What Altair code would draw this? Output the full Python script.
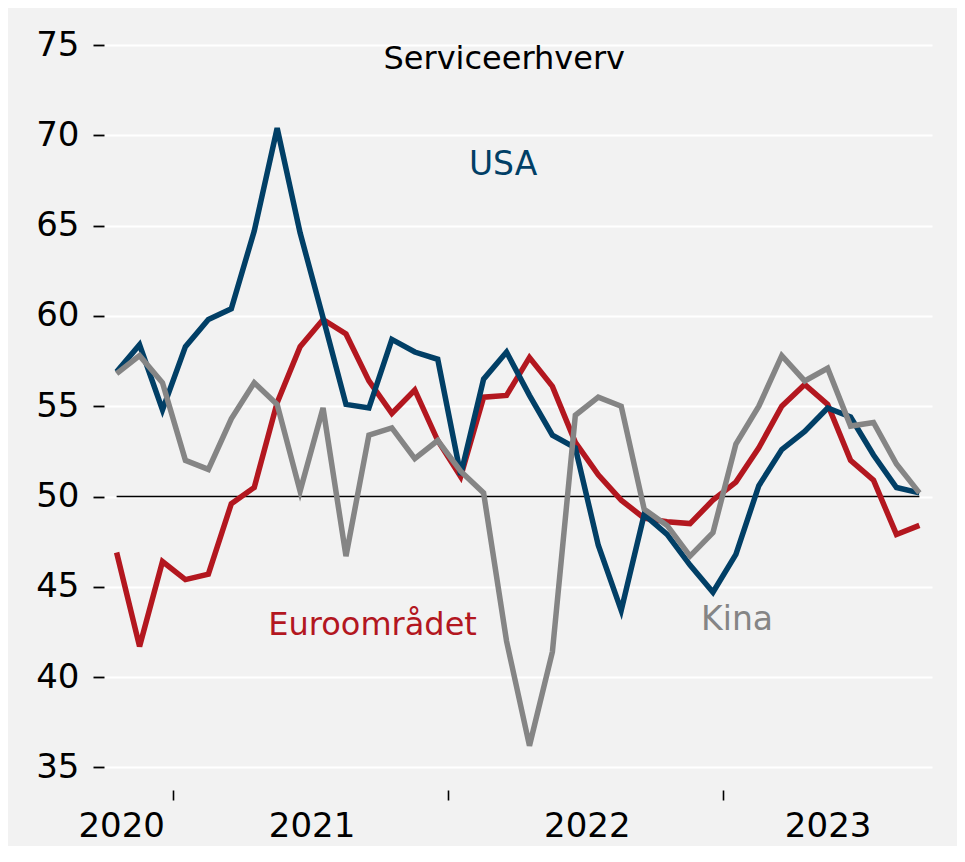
import altair as alt
import pandas as pd

# Monthly services PMI, Oct 2020 - Sep 2023
months = pd.date_range("2020-10-01", periods=36, freq="MS").strftime("%Y-%m").tolist()

usa = [56.9, 58.4, 54.8, 58.3, 59.8, 60.4, 64.7, 70.4, 64.6, 59.9, 55.1, 54.9,
       58.7, 58.0, 57.6, 51.2, 56.5, 58.0, 55.6, 53.4, 52.7, 47.3, 43.7, 49.0,
       47.9, 46.2, 44.7, 46.8, 50.6, 52.6, 53.6, 54.9, 54.4, 52.3, 50.5, 50.2]

euro = [46.9, 41.7, 46.4, 45.4, 45.7, 49.6, 50.5, 55.2, 58.3, 59.8, 59.0, 56.4,
        54.6, 55.9, 53.1, 51.1, 55.5, 55.6, 57.7, 56.1, 53.0, 51.2, 49.8, 48.8,
        48.6, 48.5, 49.8, 50.8, 52.7, 55.0, 56.2, 55.1, 52.0, 50.9, 47.9, 48.4]

kina = [56.8, 57.8, 56.3, 52.0, 51.5, 54.3, 56.3, 55.1, 50.3, 54.9, 46.7, 53.4,
        53.8, 52.1, 53.1, 51.4, 50.2, 42.0, 36.2, 41.4, 54.5, 55.5, 55.0, 49.3,
        48.4, 46.7, 48.0, 52.9, 55.0, 57.8, 56.4, 57.1, 53.9, 54.1, 51.8, 50.2]

series_names = ["Euroområdet", "USA", "Kina"]
series_colors = ["#b3171f", "#013f66", "#858585"]

year_labels = ["2020", "2021", "2022", "2023"]
year_label_at = [0.2, 8.5, 20.5, 31.0]      # month-index where year label sits
year_break_at = [2.45, 14.45, 26.45]        # month-index of year boundary ticks

y_ticks = [35, 40, 45, 50, 55, 60, 65, 70, 75]
ref_level = 50

# annotations (text, month-index, value)
ann_text = ["Serviceerhverv", "USA", "Euroområdet", "Kina"]
ann_i = [16.9, 16.85, 11.16, 27.05]
ann_v = [74.2, 68.35, 42.87, 43.14]
ann_color = ["#000000", "#013f66", "#b3171f", "#858585"]
ann_size = [32, 33, 32, 33]

rows = []
for name, vals in zip(series_names, [euro, usa, kina]):
    for k, (m, v) in enumerate(zip(months, vals)):
        rows.append({"i": k, "month": m, "v": v, "series": name})
df = pd.DataFrame(rows)

rule_df = pd.DataFrame({"i": [0], "i2": [len(months) - 1], "v": [ref_level]})
ann_df = pd.DataFrame({"t": ann_text, "i": ann_i, "v": ann_v, "c": ann_color, "s": ann_size})

FONT = "DejaVu Sans"

label_expr = " : ".join(
    [f"datum.value == {p} ? '{lab}'" for p, lab in zip(year_label_at, year_labels)]
) + " : ''"
tick_test = "indexof([" + ",".join(str(p) for p in year_break_at) + "], datum.value) >= 0"

x_enc = alt.X(
    "i:Q",
    scale=alt.Scale(domain=[-0.55, 35.55], nice=False, zero=False),
    axis=alt.Axis(
        values=year_label_at + year_break_at,
        labelExpr=label_expr,
        title=None,
        grid=False,
        domain=False,
        tickSize=10,
        tickWidth=1.6,
        tickColor="black",
        tickOpacity={"condition": {"test": tick_test, "value": 1}, "value": 0},
        labelFont=FONT,
        labelFontSize=34,
        labelColor="black",
        labelPadding=9,
        labelFlush=False,
        labelOverlap=False,
        labelBound=False,
    ),
)

y_enc = alt.Y(
    "v:Q",
    scale=alt.Scale(domain=[33.75, 75], nice=False, zero=False),
    axis=alt.Axis(
        values=y_ticks,
        title=None,
        grid=True,
        gridColor="white",
        gridWidth=2,
        domain=False,
        tickSize=11,
        tickWidth=1.8,
        tickColor="black",
        labelFont=FONT,
        labelFontSize=34,
        labelColor="black",
        labelPadding=14,
    ),
)

rule = alt.Chart(rule_df).mark_rule(color="black", strokeWidth=1.5).encode(
    x=x_enc, x2="i2:Q", y=y_enc
)

layers = [rule]
for name, col in zip(series_names, series_colors):
    layers.append(
        alt.Chart(df)
        .transform_filter(alt.datum.series == name)
        .mark_line(color=col, strokeWidth=5.5)
        .encode(x=x_enc, y=y_enc)
    )

text = alt.Chart(ann_df).mark_text(font=FONT, align="center", baseline="middle").encode(
    x=x_enc,
    y=y_enc,
    text="t:N",
    color=alt.Color("c:N", scale=None),
    size=alt.Size("s:Q", scale=None),
)
layers.append(text)

chart = (
    alt.layer(*layers)
    .properties(
        width=828,
        height=745,
        background="#f2f2f2",
        autosize=alt.AutoSizeParams(type="none"),
        padding={"left": 96, "top": 37, "right": 25, "bottom": 56},
    )
    .configure_view(strokeWidth=0, fill="#f2f2f2")
)

chart.save("out.html", embed_options={"renderer": "svg", "actions": False})
